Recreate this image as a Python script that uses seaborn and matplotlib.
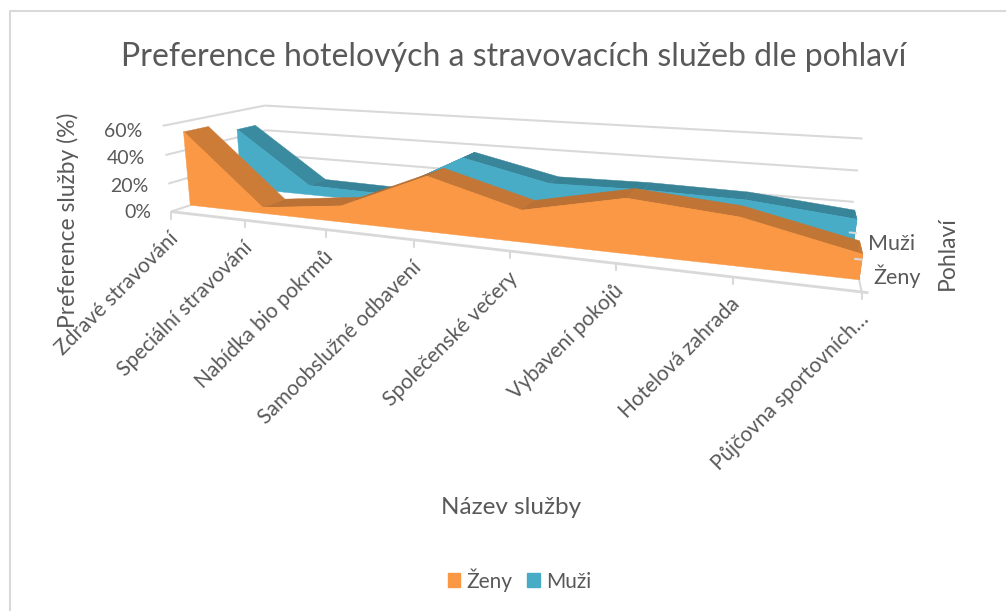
import numpy as np
import pandas as pd
import seaborn as sns
import matplotlib.pyplot as plt
from matplotlib.patches import Patch

title = 'Preference hotelových a stravovacích služeb dle pohlaví'
categories = ['Zdravé stravování', 'Speciální stravování', 'Nabídka bio pokrmů',
              'Samoobslužné odbavení', 'Společenské večery', 'Vybavení pokojů',
              'Hotelová zahrada', 'Půjčovna sportovních…']
zeny = [0.53, 0.04, 0.11, 0.36, 0.20, 0.33, 0.28, 0.14]
muzi = [0.46, 0.07, 0.06, 0.37, 0.24, 0.25, 0.24, 0.18]
y_ticks = [0.0, 0.2, 0.4, 0.6]
series_names = ['Ženy', 'Muži']
series_colors = ['#FA9845', '#49ACC6']

TEXT = '#595959'
GRID = '#D9D9D9'

# depth range of each series inside the box
ZENY_DEPTH = (0.17, 0.40)
MUZI_DEPTH = (0.68, 0.88)

# box corners (x index, value, depth) and where they sit in the image
world = np.array([
    (0, 0, 0), (0, .2, 0), (0, .4, 0), (0, .6, 0),
    (0, 0, 1), (0, .2, 1), (0, .4, 1), (0, .6, 1),
    (7, 0, 1), (7, .2, 1), (7, .4, 1), (7, .6, 1),
    (1, 0, 0), (2, 0, 0), (3, 0, 0), (4, 0, 0), (5, 0, 0), (6, 0, 0), (7, 0, 0),
], dtype=float)
image = np.array([
    (173, 210), (168, 183), (164, 155), (161, 127),
    (267, 180), (267, 155), (267, 130), (267, 105),
    (850, 232), (854, 201), (858, 170), (862, 139),
    (247, 220), (327, 229), (414, 240), (510, 252), (616, 264), (732, 278), (862, 292),
], dtype=float)


def fit_camera(world, image):
    rows, rhs = [], []
    for (x, y, z), (u, v) in zip(world, image):
        rows.append([x, y, z, 1, 0, 0, 0, 0, -u * x, -u * y, -u * z])
        rhs.append(u)
        rows.append([0, 0, 0, 0, x, y, z, 1, -v * x, -v * y, -v * z])
        rhs.append(v)
    p = np.linalg.lstsq(np.array(rows), np.array(rhs), rcond=None)[0]
    return np.append(p, 1).reshape(3, 4)


CAMERA = fit_camera(world, image)


def project(x, y, z):
    x, y, z = np.broadcast_arrays(np.asarray(x, float), np.asarray(y, float), np.asarray(z, float))
    pts = np.stack([x, y, z, np.ones_like(x)])
    u, v, w = CAMERA @ pts.reshape(4, -1)
    return (u / w).reshape(x.shape), (v / w).reshape(x.shape)


def box_line(ax, x, y, z, lw=1.5):
    px, py = project(x, y, z)
    ax.plot(px, py, color=GRID, lw=lw, solid_capstyle='butt', zorder=1)


def shade(color, factor):
    return tuple(np.array(sns.desaturate(color, 1.0)) * factor)


def draw_area(ax, df, color, depth, zorder):
    x = df['x'].to_numpy()
    y = df['value'].to_numpy()
    z0, z1 = depth

    # top faces first, the front face then covers the rising ones
    for i in range(len(x) - 1):
        slope = y[i + 1] - y[i]
        factor = np.clip(0.76 - 0.12 * slope, 0.68, 0.84)
        xs = [x[i], x[i + 1], x[i + 1], x[i]]
        ys = [y[i], y[i + 1], y[i + 1], y[i]]
        zs = [z0, z0, z1, z1]
        px, py = project(xs, ys, zs)
        c = shade(color, factor)
        ax.fill(px, py, color=c, lw=0.3, zorder=zorder)

    # right end cap
    px, py = project([x[-1]] * 4, [0, y[-1], y[-1], 0], [z0, z0, z1, z1])
    ax.fill(px, py, color=shade(color, 0.8), lw=0.3, zorder=zorder)

    px, py = project(np.r_[x, x[::-1]], np.r_[y, np.zeros_like(y)], z0)
    ax.fill(px, py, color=color, lw=0.3, zorder=zorder + 0.1)

    front = pd.DataFrame(dict(zip(['px', 'py'], project(x, y, z0))))
    sns.lineplot(data=front, x='px', y='py', sort=False, estimator=None, color=color,
                 lw=0.6, legend=False, ax=ax, zorder=zorder + 0.2)


def main():
    sns.set_theme(style='white')
    plt.rcParams['font.family'] = ['Lato', 'DejaVu Sans']

    df = pd.DataFrame({'x': np.arange(len(categories)), 'Ženy': zeny, 'Muži': muzi})
    long_df = df.melt(id_vars='x', var_name='series', value_name='value')

    fig = plt.figure(figsize=(10.06, 6.11), dpi=100)
    ax = fig.add_axes([0, 0, 1, 1])
    ax.set_xlim(0, 1006)
    ax.set_ylim(611, 0)
    ax.axis('off')

    # chart frame, only left and top are in the picture
    ax.plot([1006, 10, 10], [10.5, 10.5, 611], color=GRID, lw=1.5, zorder=0)

    last = len(categories) - 1
    for v in y_ticks:
        if v > 0:
            box_line(ax, [0, 0], [v, v], [0, 1])
        box_line(ax, [0, last], [v, v], [1, 1])
    box_line(ax, [0, 0], [0, 0], [0, 1])
    box_line(ax, [0, last], [0, 0], [1, 1])
    box_line(ax, [last, last], [0, 0], [0, 1])
    box_line(ax, [0, last + 0.05], [0, 0], [0, 0], lw=2)

    # ticks under the front edge
    for i in range(len(categories)):
        px, py = project(i, 0, 0)
        ax.plot([px, px], [py, py + 7], color=GRID, lw=1.5, zorder=1)

    draw_area(ax, long_df[long_df['series'] == 'Muži'], series_colors[1], MUZI_DEPTH, 2)
    draw_area(ax, long_df[long_df['series'] == 'Ženy'], series_colors[0], ZENY_DEPTH, 3)

    # depth axis ticks sit on top of the areas
    for z in (0.5, 1.0):
        px, py = project([last, last + 0.06], [0, 0], [z, z])
        ax.plot(px, py, color=GRID, lw=1.5, zorder=5)

    for v in y_ticks:
        px, py = project(0, v, 0)
        ax.text(px - 20, py + 1 + 7 * v, f'{v:.0%}', ha='right', va='center', color=TEXT, fontsize=14)

    for i, name in enumerate(categories):
        px, py = project(i, 0, 0)
        ax.text(px - 3, py + 17, name, ha='right', va='top', rotation=45,
                rotation_mode='anchor', color=TEXT, fontsize=15)

    ax.text(514, 57.5, title, ha='center', va='center', color=TEXT, fontsize=23)
    ax.text(68, 220, 'Preference služby (%)', ha='center', va='center', rotation=90,
            color=TEXT, fontsize=16.4)
    ax.text(511, 507, 'Název služby', ha='center', va='center', color=TEXT, fontsize=17.5)
    ax.text(947, 253, 'Pohlaví', ha='center', va='center', rotation=90, color=TEXT, fontsize=16.5)
    ax.text(892, 244, 'Muži', ha='center', va='center', color=TEXT, fontsize=15.5)
    ax.text(897, 276, 'Ženy', ha='center', va='center', color=TEXT, fontsize=15.5)

    handles = [Patch(color=c, label=n) for n, c in zip(series_names, series_colors)]
    ax.legend(handles=handles, loc='center', bbox_to_anchor=(519.5 / 1006, 1 - 580 / 611), ncol=2,
              frameon=False, handlelength=0.6, handleheight=0.65, handletextpad=0.3,
              columnspacing=0.7, fontsize=15, labelcolor=TEXT)

    fig.savefig('out.png', dpi=100)


if __name__ == '__main__':
    main()
